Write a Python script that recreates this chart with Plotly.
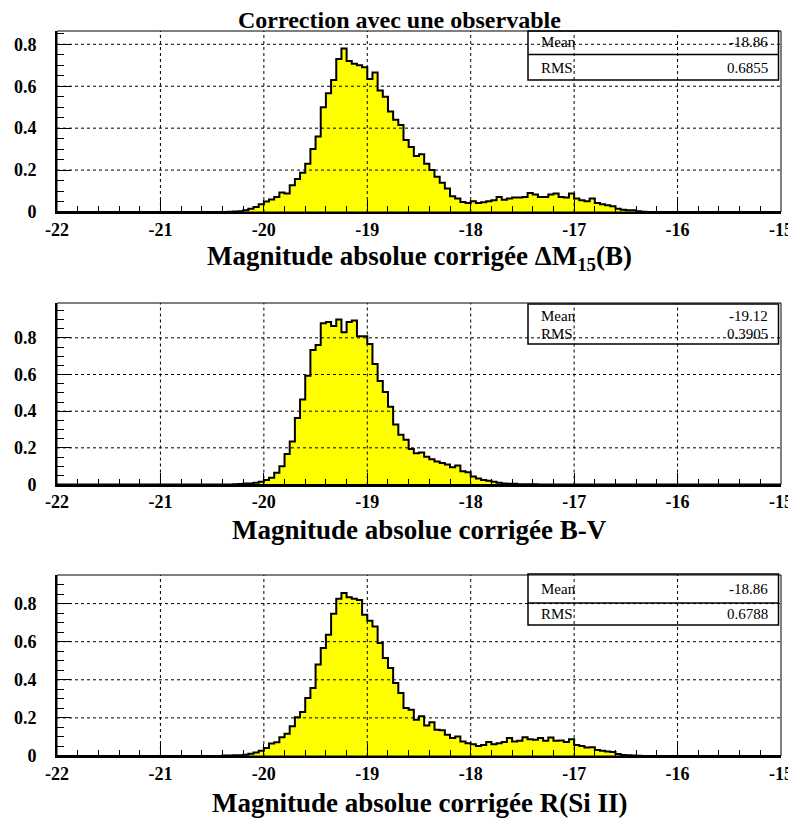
import numpy as np
import plotly.graph_objects as go

# ---------------- data ----------------
X_MIN, X_MAX, BIN_W = -22.0, -15.0, 0.05
X_TICKS = [-22, -21, -20, -19, -18, -17, -16, -15]
X_TICK_TEXT = ["-22", "-21", "-20", "-19", "-18", "-17", "-16", "-15"]
Y_TICKS = [0, 0.2, 0.4, 0.6, 0.8]
Y_TICK_TEXT = ["0", "0.2", "0.4", "0.6", "0.8"]

TITLE = "Correction avec une observable"
AXIS_TITLES = [
    "Magnitude absolue corrigée ΔM<sub>15</sub>(B)",
    "Magnitude absolue corrigée B-V",
    "Magnitude absolue corrigée R(Si II)",
]
MEANS = ["-18.86", "-19.12", "-18.86"]
RMSS = ["0.6855", "0.3905", "0.6788"]

# first non-empty bin left edge for each histogram
H1_START = -20.35
H1 = [0.001, 0.002, 0.003, 0.008, 0.016, 0.024, 0.037, 0.05, 0.06, 0.072, 0.093, 0.088,
      0.128, 0.157, 0.187, 0.23, 0.30, 0.36, 0.50, 0.567, 0.63, 0.73, 0.78, 0.72, 0.707,
      0.70, 0.69, 0.634, 0.666, 0.58, 0.55, 0.48, 0.44, 0.415, 0.343, 0.31, 0.267, 0.276,
      0.23, 0.2, 0.168, 0.14, 0.112, 0.075, 0.064, 0.048, 0.043, 0.051, 0.043, 0.046,
      0.051, 0.056, 0.072, 0.059, 0.064, 0.069, 0.069, 0.072, 0.091, 0.083, 0.072, 0.072,
      0.083, 0.088, 0.072, 0.069, 0.088, 0.064, 0.056, 0.051, 0.064, 0.043, 0.037, 0.032,
      0.027, 0.016, 0.011, 0.008, 0.008, 0.003, 0.001]

H2_START = -20.3
H2 = [0.002, 0.003, 0.005, 0.005, 0.009, 0.015, 0.024, 0.037, 0.064, 0.10, 0.167, 0.235,
      0.363, 0.464, 0.593, 0.734, 0.761, 0.88, 0.886, 0.864, 0.9, 0.831, 0.886, 0.895,
      0.809, 0.809, 0.767, 0.657, 0.565, 0.505, 0.424, 0.327, 0.272, 0.244, 0.193, 0.171,
      0.174, 0.152, 0.138, 0.126, 0.117, 0.109, 0.094, 0.104, 0.072, 0.067, 0.043, 0.033,
      0.024, 0.02, 0.015, 0.009, 0.006, 0.004, 0.004, 0.002, 0.002, 0.001, 0.001]

H3_START = -20.4
H3 = [0.002, 0.003, 0.004, 0.004, 0.007, 0.012, 0.019, 0.028, 0.042, 0.066, 0.072, 0.098,
      0.117, 0.156, 0.203, 0.231, 0.304, 0.357, 0.48, 0.567, 0.637, 0.747, 0.826, 0.856,
      0.833, 0.826, 0.819, 0.742, 0.71, 0.68, 0.593, 0.514, 0.462, 0.383, 0.331, 0.252,
      0.243, 0.19, 0.208, 0.16, 0.177, 0.138, 0.135, 0.111, 0.094, 0.103, 0.076, 0.067,
      0.062, 0.053, 0.058, 0.073, 0.062, 0.067, 0.073, 0.094, 0.076, 0.08, 0.099, 0.088,
      0.085, 0.094, 0.08, 0.097, 0.08, 0.081, 0.073, 0.088, 0.058, 0.053, 0.044, 0.046,
      0.032, 0.028, 0.023, 0.021, 0.011, 0.005, 0.004, 0.002, 0.001]

HISTS = [(H1_START, H1), (H2_START, H2), (H3_START, H3)]
Y_MAX = [0.8635, 0.99, 0.95]

# ---------------- layout geometry (window pixels) ----------------
PAGE_OFF = 8                      # default body margin of the html page
W, H = 796 - PAGE_OFF, 820 - PAGE_OFF
PLOT_L, PLOT_R = 57, 781
PANELS_PX = [(31, 212), (303, 484.5), (575, 756)]     # (top, bottom)
STAT_BOX = [(31, 54.5, 80), (304, None, 344), (574, 603, 625)]  # top, divider, bottom
STAT_ROWS = [(42, 67.5), (315.5, 334), (588.5, 614)]
AXIS_TITLE_Y = [258, 530, 803]
FONT = "Liberation Serif"
FONT_B = "Nimbus Roman, Liberation Serif, serif"


def fx(px):
    return (px - PAGE_OFF) / W


def fy(py):
    return 1 - (py - PAGE_OFF) / H


n_bins = int(round((X_MAX - X_MIN) / BIN_W))
edges = X_MIN + BIN_W * np.arange(n_bins + 1)

fig = go.Figure()
shapes = []
annotations = []

for i, ((start, vals), ymax) in enumerate(zip(HISTS, Y_MAX)):
    k = i + 1
    sfx = "" if k == 1 else str(k)
    full = np.zeros(n_bins)
    off = int(round((start - X_MIN) / BIN_W))
    full[off:off + len(vals)] = vals
    yy = np.append(full, full[-1])
    fig.add_trace(go.Scatter(
        x=edges, y=yy, mode="lines", line=dict(shape="hv", color="black", width=2),
        fill="tozeroy", fillcolor="#FFFF00", xaxis="x" + sfx, yaxis="y" + sfx,
        hoverinfo="skip", showlegend=False))

    top, bot = PANELS_PX[i]
    xdom = [fx(PLOT_L), fx(PLOT_R)]
    ydom = [fy(bot), fy(top)]
    tickfont = dict(family=FONT_B, size=18, color="black", weight="bold")
    fig.update_layout(**{
        "xaxis" + sfx: dict(
            domain=xdom, range=[X_MIN, X_MAX], anchor="y" + sfx, tickvals=X_TICKS,
            ticktext=X_TICK_TEXT, automargin=False, ticklabeloverflow="allow",
            ticks="inside", ticklen=12, tickwidth=1, tickcolor="black",
            showgrid=False, zeroline=False, showline=True, linewidth=2, linecolor="black",
            tickfont=tickfont, ticklabelstandoff=0, fixedrange=True,
            minor=dict(dtick=0.2, tick0=-22, ticks="inside", ticklen=6, tickwidth=1,
                       tickcolor="black", showgrid=False)),
        "yaxis" + sfx: dict(
            domain=ydom, range=[0, ymax], anchor="x" + sfx, tickvals=Y_TICKS,
            ticktext=Y_TICK_TEXT, automargin=False,
            ticks="inside", ticklen=14, tickwidth=1, tickcolor="black",
            showgrid=False, zeroline=False, showline=True, linewidth=2, linecolor="black",
            tickfont=tickfont, ticklabelstandoff=15, fixedrange=True,
            minor=dict(dtick=0.05, tick0=0, ticks="inside", ticklen=7, tickwidth=1,
                       tickcolor="black", showgrid=False)),
    })

    # dotted grid above the histogram
    for v in X_TICKS[1:-1]:
        shapes.append(dict(type="line", xref="x" + sfx, yref="y" + sfx + " domain",
                           x0=v, x1=v, y0=0, y1=1, layer="above",
                           line=dict(color="black", width=1, dash="dot")))
    for v in Y_TICKS[1:]:
        shapes.append(dict(type="line", xref="x" + sfx + " domain", yref="y" + sfx,
                           x0=0, x1=1, y0=v, y1=v, layer="above",
                           line=dict(color="black", width=1, dash="dot")))
    # frame
    shapes.append(dict(type="rect", xref="x" + sfx + " domain", yref="y" + sfx + " domain",
                       x0=0, x1=1, y0=0, y1=1, layer="above",
                       line=dict(color="black", width=1)))

    # stats box
    bt, bd, bb = STAT_BOX[i]
    shapes.append(dict(type="rect", xref="paper", yref="paper",
                       x0=fx(528), x1=fx(778.5), y0=fy(bb), y1=fy(bt), layer="above",
                       line=dict(color="black", width=1.5)))
    if bd is not None:
        shapes.append(dict(type="line", xref="paper", yref="paper",
                           x0=fx(528), x1=fx(778.5), y0=fy(bd), y1=fy(bd), layer="above",
                           line=dict(color="black", width=1.5)))
    r1, r2 = STAT_ROWS[i]
    sfont = dict(family=FONT, size=15, color="black")
    annotations += [
        dict(text="Mean", x=fx(539), y=fy(r1), xref="paper", yref="paper",
             xanchor="left", yanchor="middle", showarrow=False, font=sfont),
        dict(text=MEANS[i], x=fx(770), y=fy(r1), xref="paper", yref="paper",
             xanchor="right", yanchor="middle", showarrow=False, font=sfont),
        dict(text="RMS", x=fx(539), y=fy(r2), xref="paper", yref="paper",
             xanchor="left", yanchor="middle", showarrow=False, font=sfont),
        dict(text=RMSS[i], x=fx(770), y=fy(r2), xref="paper", yref="paper",
             xanchor="right", yanchor="middle", showarrow=False, font=sfont),
    ]
    # axis title
    annotations.append(dict(
        text="<b>" + AXIS_TITLES[i] + "</b>", x=fx((PLOT_L + PLOT_R) / 2),
        y=fy(AXIS_TITLE_Y[i]), xref="paper", yref="paper", xanchor="center",
        yanchor="middle", showarrow=False,
        font=dict(family=FONT_B, size=27, color="black")))

annotations.append(dict(
    text="<b>" + TITLE + "</b>", x=fx(399), y=fy(20), xref="paper", yref="paper",
    xanchor="center", yanchor="middle", showarrow=False,
    font=dict(family=FONT_B, size=24, color="black")))

fig.update_layout(
    width=W, height=H, margin=dict(l=0, r=0, t=0, b=0),
    paper_bgcolor="white", plot_bgcolor="white", showlegend=False,
    shapes=shapes, annotations=annotations)

fig.write_html("out.html")
